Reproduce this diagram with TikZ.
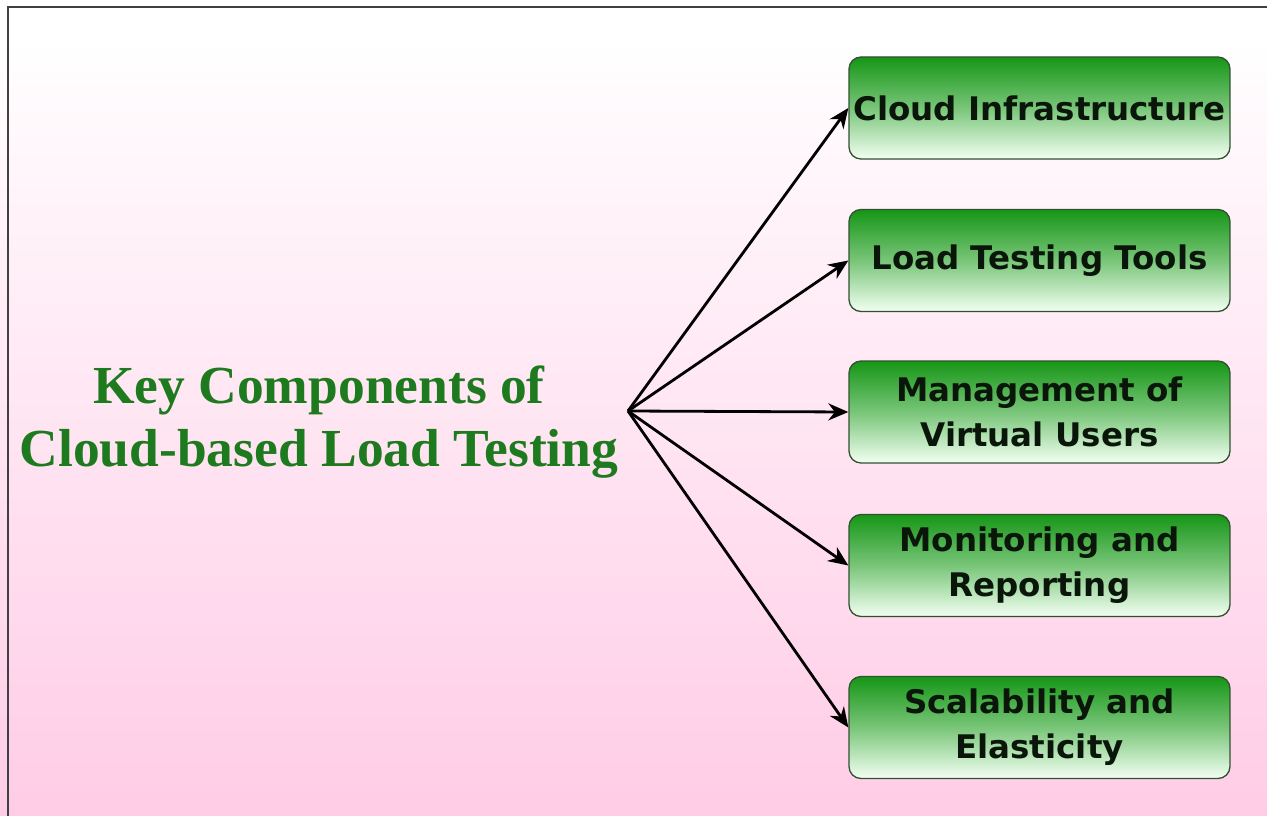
\documentclass[tikz,border=0pt]{standalone}
\usepackage{fontspec}
\setmainfont{Liberation Serif}
\newfontfamily\boxfont{DejaVu Sans}
\usetikzlibrary{arrows.meta}
\definecolor{pinkbg}{RGB}{255,204,230}
\definecolor{titlegreen}{RGB}{30,122,30}
\definecolor{boxtop}{RGB}{22,150,22}
\definecolor{boxbottom}{RGB}{242,255,242}
\definecolor{boxedge}{RGB}{50,80,50}
\definecolor{boxtext}{RGB}{10,22,10}
\tikzset{
  compbox/.style={draw=boxedge, line width=1.3pt, rounded corners=12pt,
    top color=boxtop, bottom color=boxbottom, middle color=boxtop!55!boxbottom,
    minimum width=381pt, minimum height=102pt, inner sep=0pt,
    align=center, text=boxtext,
    font=\boxfont\bfseries\fontsize{32.5}{45}\selectfont},
  link/.style={line width=2.8pt, -{Stealth[length=20pt,width=17pt]}}
}
\begin{document}
\begin{tikzpicture}[x=1pt,y=-1pt]
  \useasboundingbox (0,0) rectangle (1267,816);
  % page background
  \fill[white] (0,0) rectangle (1267,40);
  \shade[top color=white, bottom color=white!88!pinkbg] (0,40) rectangle (1267,120);
  \shade[top color=white!88!pinkbg, bottom color=pinkbg] (0,120) rectangle (1267,816);
  % frame
  \draw[line width=2pt, black!75] (8,816) -- (8,7) -- (1267,7);

  % title
  \node[font=\bfseries\fontsize{53.5}{63}\selectfont, text=titlegreen, align=center]
    (title) at (319,422) {Key Components of\\Cloud-based Load Testing};
  \coordinate (hub) at (628,411);

  % component boxes
  \node[compbox] (infra) at (1039.5,108) {Cloud Infrastructure};
  \node[compbox] (tools) at (1039.5,260.5) {Load Testing Tools};
  \node[compbox] (users) at (1039.5,412) {Management of\\Virtual Users};
  \node[compbox] (mon)   at (1039.5,565.5) {Monitoring and\\Reporting};
  \node[compbox] (scale) at (1039.5,727.5) {Scalability and\\Elasticity};

  % connectors
  \foreach \n in {infra,tools,users,mon,scale}
    \draw[link] (hub) -- (\n.west);
\end{tikzpicture}
\end{document}
